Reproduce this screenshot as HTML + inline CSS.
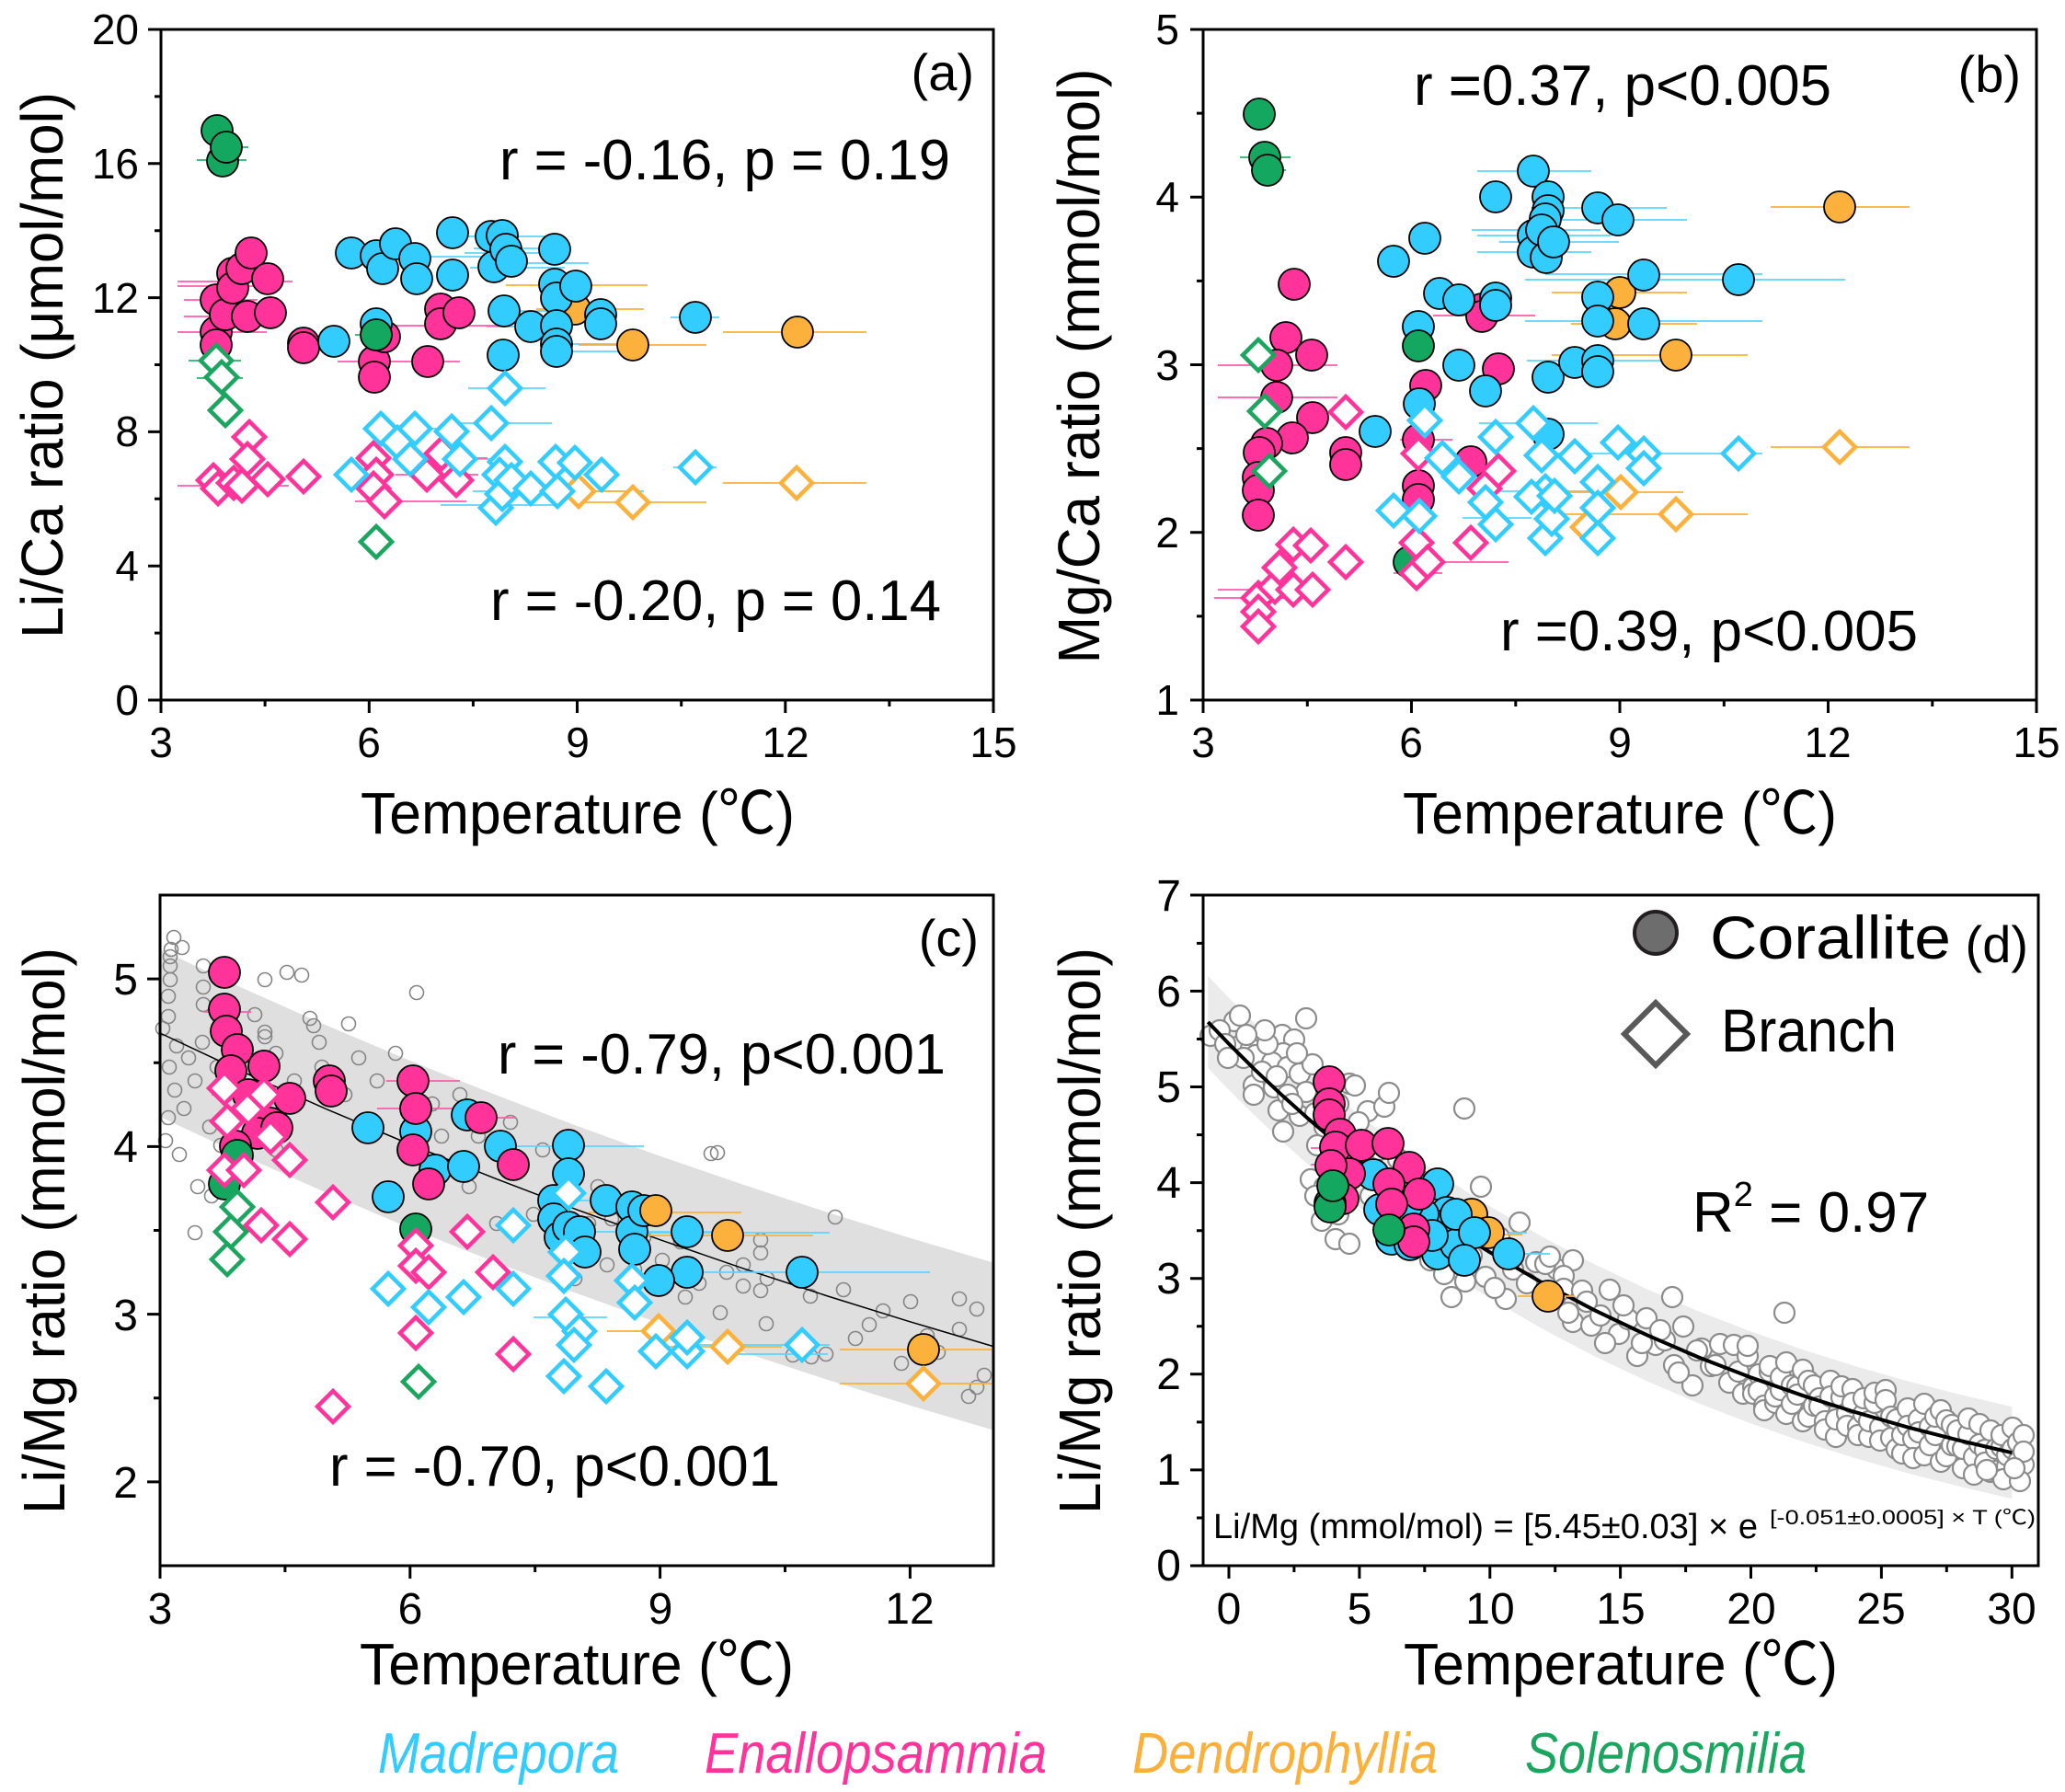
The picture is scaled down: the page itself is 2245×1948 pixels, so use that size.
<!DOCTYPE html>
<html><head><meta charset="utf-8"><style>
html,body{margin:0;padding:0;background:#fff}
svg{display:block}
text{font-family:"Liberation Sans","Noto Sans CJK SC",sans-serif;fill:#000}
.cj{font-family:"Noto Sans CJK SC","Liberation Sans",sans-serif}
.t{font-size:46px}.tb{font-size:48px}
.T{font-size:64px}
.S{font-size:62px}
.P{font-size:56px}
.ax{fill:none;stroke:#000;stroke-width:3}
.tk{stroke:#000;stroke-width:3;fill:none}
.m{fill:#33CCFF;stroke:#000;stroke-width:1.8}
.e{fill:#FF3399;stroke:#000;stroke-width:1.8}
.o{fill:#FBB13C;stroke:#000;stroke-width:1.8}
.s{fill:#14A75F;stroke:#000;stroke-width:1.8}
.dm{fill:#fff;stroke:#33CCFF;stroke-width:4.5}
.de{fill:#fff;stroke:#FF3399;stroke-width:4.5}
.do{fill:#fff;stroke:#FBB13C;stroke-width:4.5}
.ds{fill:#fff;stroke:#1AA65E;stroke-width:4.5}
.gc{fill:none;stroke:#858585;stroke-width:1.6}
.gd{fill:#fff;stroke:#8C8C8C;stroke-width:2.2}
.bm{stroke:#5CD6FF;stroke-width:1.8;fill:none}
.be{stroke:#FF5CAD;stroke-width:1.8;fill:none}
.bo{stroke:#FBB03B;stroke-width:1.8;fill:none}
.bs{stroke:#2AB36F;stroke-width:1.8;fill:none}
</style></head><body>
<svg width="2245" height="1948" viewBox="0 0 2245 1948" xmlns="http://www.w3.org/2000/svg">
<defs>
<circle id="C" r="17"/>
<path id="D" d="M0,-17L17,0L0,17L-17,0Z"/>
<circle id="g" r="7.5"/>
<circle id="h" r="11"/>
</defs>
<rect width="2245" height="1948" fill="#fff"/>

<!-- ================= PANEL (a) ================= -->
<path class="bm" d="M505 275H614M511 291H614M500 257H600M729 345H782M529 355H614M509 422H593M486 460H600M732 508H779M514 534H700M479 549H607M520 286H640M515 270H620M600 382H690M600 374H700M420 466H500M452 499H540M430 279H560M545 338H620"/>
<path class="be" d="M193 306H318M193 311H300M200 326H280M193 361H290M367 393H500M421 354H543M193 528H314M386 545H507M430 516H520M440 498H530M200 344H310"/>
<path class="bo" d="M786 361H942M629 375H768M583 336H700M786 525H942M629 546H768M550 310H704M580 534H680"/>
<path class="bs" d="M214 174H268M236 160H270M214 411H264M386 364H429M205 392H262"/>
<g>
<use href="#C" class="e" x="235" y="326"/><use href="#C" class="e" x="235" y="361"/><use href="#C" class="e" x="235" y="375"/><use href="#C" class="e" x="245" y="342"/><use href="#C" class="e" x="253" y="297"/><use href="#C" class="e" x="253" y="313"/><use href="#C" class="e" x="263" y="292"/><use href="#C" class="e" x="273" y="275"/><use href="#C" class="e" x="269" y="344"/><use href="#C" class="e" x="291" y="303"/><use href="#C" class="e" x="294" y="340"/><use href="#C" class="e" x="330" y="373"/><use href="#C" class="e" x="330" y="378"/><use href="#C" class="e" x="407" y="393"/><use href="#C" class="e" x="407" y="410"/><use href="#C" class="e" x="418" y="366"/><use href="#C" class="e" x="465" y="393"/><use href="#C" class="e" x="479" y="336"/><use href="#C" class="e" x="479" y="352"/><use href="#C" class="e" x="499" y="340"/>
<use href="#C" class="o" x="625" y="336"/><use href="#C" class="o" x="688" y="375"/><use href="#C" class="o" x="867" y="361"/>
<use href="#C" class="m" x="363" y="371"/><use href="#C" class="m" x="382" y="275"/><use href="#C" class="m" x="409" y="278"/><use href="#C" class="m" x="416" y="292"/><use href="#C" class="m" x="430" y="265"/><use href="#C" class="m" x="451" y="281"/><use href="#C" class="m" x="453" y="303"/><use href="#C" class="m" x="492" y="253"/><use href="#C" class="m" x="492" y="299"/><use href="#C" class="m" x="534" y="257"/><use href="#C" class="m" x="537" y="290"/><use href="#C" class="m" x="546" y="256"/><use href="#C" class="m" x="550" y="271"/><use href="#C" class="m" x="556" y="284"/><use href="#C" class="m" x="548" y="338"/><use href="#C" class="m" x="547" y="386"/><use href="#C" class="m" x="577" y="355"/><use href="#C" class="m" x="603" y="271"/><use href="#C" class="m" x="603" y="309"/><use href="#C" class="m" x="605" y="324"/><use href="#C" class="m" x="605" y="354"/><use href="#C" class="m" x="605" y="374"/><use href="#C" class="m" x="605" y="382"/><use href="#C" class="m" x="626" y="311"/><use href="#C" class="m" x="653" y="342"/><use href="#C" class="m" x="653" y="352"/><use href="#C" class="m" x="756" y="345"/><use href="#C" class="m" x="409" y="352"/>
<use href="#C" class="s" x="236" y="142"/><use href="#C" class="s" x="242" y="175"/><use href="#C" class="s" x="246" y="160"/><use href="#C" class="s" x="409" y="364"/>
<use href="#D" class="do" x="629" y="534"/><use href="#D" class="do" x="688" y="546"/><use href="#D" class="do" x="866" y="525"/>
<use href="#D" class="de" x="232" y="522"/><use href="#D" class="de" x="237" y="531"/><use href="#D" class="de" x="254" y="525"/><use href="#D" class="de" x="263" y="528"/><use href="#D" class="de" x="271" y="475"/><use href="#D" class="de" x="269" y="499"/><use href="#D" class="de" x="291" y="521"/><use href="#D" class="de" x="330" y="518"/><use href="#D" class="de" x="406" y="498"/><use href="#D" class="de" x="409" y="516"/><use href="#D" class="de" x="406" y="531"/><use href="#D" class="de" x="418" y="545"/><use href="#D" class="de" x="464" y="516"/><use href="#D" class="de" x="480" y="493"/><use href="#D" class="de" x="496" y="522"/>
<use href="#D" class="dm" x="382" y="516"/><use href="#D" class="dm" x="414" y="466"/><use href="#D" class="dm" x="432" y="481"/><use href="#D" class="dm" x="451" y="466"/><use href="#D" class="dm" x="446" y="499"/><use href="#D" class="dm" x="491" y="469"/><use href="#D" class="dm" x="500" y="499"/><use href="#D" class="dm" x="534" y="460"/><use href="#D" class="dm" x="549" y="422"/><use href="#D" class="dm" x="549" y="502"/><use href="#D" class="dm" x="543" y="516"/><use href="#D" class="dm" x="539" y="552"/><use href="#D" class="dm" x="546" y="537"/><use href="#D" class="dm" x="556" y="522"/><use href="#D" class="dm" x="577" y="531"/><use href="#D" class="dm" x="604" y="502"/><use href="#D" class="dm" x="606" y="534"/><use href="#D" class="dm" x="625" y="503"/><use href="#D" class="dm" x="654" y="516"/><use href="#D" class="dm" x="756" y="508"/>
<use href="#D" class="ds" x="235" y="392"/><use href="#D" class="ds" x="241" y="410"/><use href="#D" class="ds" x="245" y="446"/><use href="#D" class="ds" x="409" y="589"/>
</g>
<rect class="ax" x="175" y="32" width="905" height="729"/>
<path class="tk" d="M161 761H175M161 615.2H175M161 469.4H175M161 323.6H175M161 177.8H175M161 32H175M168 688.1H175M168 542.3H175M168 396.5H175M168 250.7H175M168 104.9H175M175 761V775M401.3 761V775M627.5 761V775M853.8 761V775M1080 761V775M288.1 761V768M514.4 761V768M740.7 761V768M966.9 761V768"/>
<g class="t" text-anchor="end"><text x="151" y="777">0</text><text x="151" y="631">4</text><text x="151" y="485">8</text><text x="151" y="340">12</text><text x="151" y="194">16</text><text x="151" y="48">20</text></g>
<g class="t" text-anchor="middle"><text x="175" y="823">3</text><text x="401" y="823">6</text><text x="628" y="823">9</text><text x="854" y="823">12</text><text x="1080" y="823">15</text></g>
<text class="T" x="628" y="906" text-anchor="middle" textLength="472" lengthAdjust="spacingAndGlyphs">Temperature (<tspan class="cj">℃</tspan>)</text>
<text class="T" transform="translate(68,397) rotate(-90)" text-anchor="middle" textLength="594" lengthAdjust="spacingAndGlyphs">Li/Ca ratio (μmol/mol)</text>
<text class="P" x="1059" y="98" text-anchor="end">(a)</text>
<text class="S" x="543" y="195" textLength="490" lengthAdjust="spacingAndGlyphs">r = -0.16, p = 0.19</text>
<text class="S" x="533" y="674" textLength="490" lengthAdjust="spacingAndGlyphs">r = -0.20, p = 0.14</text>

<!-- ================= PANEL (b) ================= -->
<path class="bm" d="M1606 186H1730M1658 304H2006M1680 298H1916M1665 226H1812M1606 256H1751M1606 274H1730M1694 239H1834M1658 349H1916M1680 493H1916M1694 493H1837M1608 460H1737M1622 534H1766M1590 563H1665M1660 392H1810M1600 250H1740M1630 263H1760"/>
<path class="bo" d="M1925 225H2076M1925 486H2076M1687 386H1900M1687 559H1900M1687 318H1834M1708 352H1845M1690 535H1830"/>
<path class="be" d="M1324 397H1454M1324 432H1454M1324 641H1421M1558 343H1669M1522 478H1579M1515 623H1568M1320 650H1410M1560 611H1640"/>
<path class="bs" d="M1348 171H1403M1360 185H1398"/>
<g>
<use href="#C" class="s" x="1532" y="611"/>
<use href="#C" class="e" x="1407" y="309"/><use href="#C" class="e" x="1398" y="367"/><use href="#C" class="e" x="1426" y="386"/><use href="#C" class="e" x="1388" y="397"/><use href="#C" class="e" x="1388" y="432"/><use href="#C" class="e" x="1427" y="454"/><use href="#C" class="e" x="1405" y="476"/><use href="#C" class="e" x="1377" y="482"/><use href="#C" class="e" x="1369" y="492"/><use href="#C" class="e" x="1368" y="519"/><use href="#C" class="e" x="1368" y="533"/><use href="#C" class="e" x="1368" y="560"/><use href="#C" class="e" x="1463" y="492"/><use href="#C" class="e" x="1463" y="505"/><use href="#C" class="e" x="1550" y="419"/><use href="#C" class="e" x="1542" y="478"/><use href="#C" class="e" x="1542" y="528"/><use href="#C" class="e" x="1542" y="543"/><use href="#C" class="e" x="1611" y="336"/><use href="#C" class="e" x="1611" y="344"/><use href="#C" class="e" x="1629" y="401"/><use href="#C" class="e" x="1599" y="502"/>
<use href="#C" class="o" x="1761" y="318"/><use href="#C" class="o" x="1756" y="352"/><use href="#C" class="o" x="1822" y="386"/><use href="#C" class="o" x="2000" y="225"/>
<use href="#C" class="m" x="1515" y="284"/><use href="#C" class="m" x="1549" y="259"/><use href="#C" class="m" x="1542" y="355"/><use href="#C" class="m" x="1565" y="319"/><use href="#C" class="m" x="1586" y="326"/><use href="#C" class="m" x="1586" y="397"/><use href="#C" class="m" x="1615" y="425"/><use href="#C" class="m" x="1626" y="214"/><use href="#C" class="m" x="1626" y="324"/><use href="#C" class="m" x="1626" y="332"/><use href="#C" class="m" x="1667" y="186"/><use href="#C" class="m" x="1667" y="256"/><use href="#C" class="m" x="1667" y="274"/><use href="#C" class="m" x="1683" y="214"/><use href="#C" class="m" x="1683" y="229"/><use href="#C" class="m" x="1680" y="238"/><use href="#C" class="m" x="1676" y="250"/><use href="#C" class="m" x="1681" y="280"/><use href="#C" class="m" x="1689" y="263"/><use href="#C" class="m" x="1683" y="410"/><use href="#C" class="m" x="1712" y="394"/><use href="#C" class="m" x="1737" y="226"/><use href="#C" class="m" x="1737" y="323"/><use href="#C" class="m" x="1737" y="349"/><use href="#C" class="m" x="1737" y="392"/><use href="#C" class="m" x="1737" y="404"/><use href="#C" class="m" x="1759" y="239"/><use href="#C" class="m" x="1787" y="299"/><use href="#C" class="m" x="1787" y="352"/><use href="#C" class="m" x="1890" y="304"/><use href="#C" class="m" x="1495" y="469"/><use href="#C" class="m" x="1543" y="439"/><use href="#C" class="m" x="1683" y="472"/>
<use href="#C" class="s" x="1369" y="124"/><use href="#C" class="s" x="1375" y="171"/><use href="#C" class="s" x="1378" y="185"/><use href="#C" class="s" x="1542" y="376"/>
<use href="#D" class="ds" x="1368" y="386"/><use href="#D" class="ds" x="1375" y="447"/><use href="#D" class="ds" x="1380" y="512"/>
<use href="#D" class="do" x="1762" y="535"/><use href="#D" class="do" x="1726" y="573"/><use href="#D" class="do" x="1822" y="559"/><use href="#D" class="do" x="2000" y="486"/>
<use href="#D" class="de" x="1368" y="650"/><use href="#D" class="de" x="1368" y="665"/><use href="#D" class="de" x="1368" y="681"/><use href="#D" class="de" x="1386" y="638"/><use href="#D" class="de" x="1391" y="617"/><use href="#D" class="de" x="1406" y="592"/><use href="#D" class="de" x="1406" y="641"/><use href="#D" class="de" x="1425" y="593"/><use href="#D" class="de" x="1427" y="641"/><use href="#D" class="de" x="1463" y="448"/><use href="#D" class="de" x="1463" y="611"/><use href="#D" class="de" x="1542" y="493"/><use href="#D" class="de" x="1540" y="590"/><use href="#D" class="de" x="1540" y="623"/><use href="#D" class="de" x="1552" y="611"/><use href="#D" class="de" x="1599" y="590"/><use href="#D" class="de" x="1614" y="531"/><use href="#D" class="de" x="1629" y="512"/>
<use href="#D" class="dm" x="1515" y="555"/><use href="#D" class="dm" x="1543" y="561"/><use href="#D" class="dm" x="1549" y="457"/><use href="#D" class="dm" x="1568" y="498"/><use href="#D" class="dm" x="1586" y="518"/><use href="#D" class="dm" x="1626" y="475"/><use href="#D" class="dm" x="1626" y="570"/><use href="#D" class="dm" x="1615" y="546"/><use href="#D" class="dm" x="1667" y="460"/><use href="#D" class="dm" x="1676" y="495"/><use href="#D" class="dm" x="1680" y="585"/><use href="#D" class="dm" x="1680" y="534"/><use href="#D" class="dm" x="1687" y="564"/><use href="#D" class="dm" x="1665" y="540"/><use href="#D" class="dm" x="1690" y="539"/><use href="#D" class="dm" x="1712" y="496"/><use href="#D" class="dm" x="1737" y="524"/><use href="#D" class="dm" x="1737" y="552"/><use href="#D" class="dm" x="1737" y="585"/><use href="#D" class="dm" x="1759" y="481"/><use href="#D" class="dm" x="1787" y="493"/><use href="#D" class="dm" x="1787" y="509"/><use href="#D" class="dm" x="1890" y="493"/>
</g>
<rect class="ax" x="1308" y="32" width="906" height="729"/>
<path class="tk" d="M1294 761H1308M1294 578.75H1308M1294 396.5H1308M1294 214.25H1308M1294 32H1308M1301 669.9H1308M1301 487.6H1308M1301 305.4H1308M1301 123.1H1308M1308 761V775M1534.5 761V775M1761 761V775M1987.5 761V775M2214 761V775M1421.3 761V768M1647.8 761V768M1874.3 761V768M2100.8 761V768"/>
<g class="t" text-anchor="end"><text x="1282" y="777">1</text><text x="1282" y="595">2</text><text x="1282" y="413">3</text><text x="1282" y="230">4</text><text x="1282" y="48">5</text></g>
<g class="t" text-anchor="middle"><text x="1308" y="823">3</text><text x="1534" y="823">6</text><text x="1761" y="823">9</text><text x="1987" y="823">12</text><text x="2214" y="823">15</text></g>
<text class="T" x="1761" y="906" text-anchor="middle" textLength="472" lengthAdjust="spacingAndGlyphs">Temperature (<tspan class="cj">℃</tspan>)</text>
<text class="T" transform="translate(1195,398) rotate(-90)" text-anchor="middle" textLength="647" lengthAdjust="spacingAndGlyphs">Mg/Ca ratio (mmol/mol)</text>
<text class="P" x="2197" y="100" text-anchor="end">(b)</text>
<text class="S" x="1537" y="114" textLength="454" lengthAdjust="spacingAndGlyphs">r =0.37, p&lt;0.005</text>
<text class="S" x="1631" y="707" textLength="454" lengthAdjust="spacingAndGlyphs">r =0.39, p&lt;0.005</text>

<!-- ================= PANEL (c) ================= -->
<polygon fill="#DFDFDF" points="174,1032 264.6,1074.5 355.2,1114.8 445.8,1153 536.4,1189.3 627,1223.9 717.6,1256.7 808.2,1287.9 898.8,1317.6 989.4,1345.8 1080,1372.6 1080,1554.6 989.4,1527.8 898.8,1499.6 808.2,1469.9 717.6,1438.7 627,1405.9 536.4,1371.3 445.8,1335 355.2,1296.8 264.6,1256.5 174,1214"/>
<g class="gc">
<use href="#g" x="189" y="1019"/><use href="#g" x="186" y="1032"/><use href="#g" x="198" y="1030"/><use href="#g" x="185" y="1040"/><use href="#g" x="185" y="1050"/><use href="#g" x="185" y="1065"/><use href="#g" x="183" y="1083"/><use href="#g" x="183" y="1105"/><use href="#g" x="221" y="1050"/><use href="#g" x="221" y="1073"/><use href="#g" x="221" y="1092"/><use href="#g" x="277" y="1103"/><use href="#g" x="288" y="1065"/><use href="#g" x="312" y="1057"/><use href="#g" x="328" y="1060"/><use href="#g" x="337" y="1107"/><use href="#g" x="341" y="1115"/><use href="#g" x="288" y="1122"/><use href="#g" x="288" y="1127"/><use href="#g" x="347" y="1133"/><use href="#g" x="379" y="1113"/><use href="#g" x="220" y="1133"/><use href="#g" x="192" y="1137"/><use href="#g" x="177" y="1118"/><use href="#g" x="184" y="1160"/><use href="#g" x="190" y="1185"/><use href="#g" x="205" y="1150"/><use href="#g" x="212" y="1175"/><use href="#g" x="236" y="1160"/><use href="#g" x="246" y="1190"/><use href="#g" x="200" y="1205"/><use href="#g" x="183" y="1215"/><use href="#g" x="228" y="1225"/><use href="#g" x="262" y="1210"/><use href="#g" x="240" y="1245"/><use href="#g" x="300" y="1250"/><use href="#g" x="195" y="1255"/><use href="#g" x="215" y="1290"/><use href="#g" x="230" y="1300"/><use href="#g" x="262" y="1270"/><use href="#g" x="290" y="1195"/><use href="#g" x="320" y="1175"/><use href="#g" x="270" y="1160"/><use href="#g" x="350" y="1160"/><use href="#g" x="375" y="1190"/><use href="#g" x="300" y="1145"/><use href="#g" x="390" y="1150"/><use href="#g" x="410" y="1175"/><use href="#g" x="453" y="1079"/><use href="#g" x="430" y="1145"/><use href="#g" x="470" y="1200"/><use href="#g" x="500" y="1190"/><use href="#g" x="520" y="1235"/><use href="#g" x="480" y="1235"/><use href="#g" x="555" y="1220"/><use href="#g" x="590" y="1250"/><use href="#g" x="620" y="1265"/><use href="#g" x="650" y="1290"/><use href="#g" x="560" y="1270"/><use href="#g" x="600" y="1300"/><use href="#g" x="640" y="1330"/><use href="#g" x="665" y="1325"/><use href="#g" x="700" y="1345"/><use href="#g" x="720" y="1370"/><use href="#g" x="690" y="1380"/><use href="#g" x="740" y="1350"/><use href="#g" x="760" y="1395"/><use href="#g" x="773" y="1254"/><use href="#g" x="660" y="1375"/><use href="#g" x="625" y="1390"/><use href="#g" x="580" y="1320"/><use href="#g" x="540" y="1330"/><use href="#g" x="510" y="1290"/><use href="#g" x="470" y="1270"/><use href="#g" x="720" y="1315"/><use href="#g" x="745" y="1410"/><use href="#g" x="908" y="1323"/><use href="#g" x="827" y="1348"/><use href="#g" x="827" y="1362"/><use href="#g" x="808" y="1375"/><use href="#g" x="790" y="1383"/><use href="#g" x="808" y="1398"/><use href="#g" x="827" y="1403"/><use href="#g" x="834" y="1390"/><use href="#g" x="881" y="1409"/><use href="#g" x="917" y="1402"/><use href="#g" x="783" y="1427"/><use href="#g" x="833" y="1439"/><use href="#g" x="862" y="1473"/><use href="#g" x="882" y="1475"/><use href="#g" x="898" y="1472"/><use href="#g" x="980" y="1482"/><use href="#g" x="1008" y="1452"/><use href="#g" x="1043" y="1412"/><use href="#g" x="1062" y="1423"/><use href="#g" x="1043" y="1445"/><use href="#g" x="1062" y="1508"/><use href="#g" x="1053" y="1518"/><use href="#g" x="780" y="1253"/><use href="#g" x="945" y="1440"/><use href="#g" x="960" y="1425"/><use href="#g" x="990" y="1415"/><use href="#g" x="930" y="1455"/><use href="#g" x="1070" y="1495"/><use href="#g" x="1020" y="1470"/><use href="#g" x="180" y="1240"/><use href="#g" x="212" y="1340"/>
</g>
<polyline fill="none" stroke="#000" stroke-width="1.5" points="174,1123 264.6,1165.5 355.2,1205.8 445.8,1244 536.4,1280.3 627,1314.9 717.6,1347.7 808.2,1378.9 898.8,1408.6 989.4,1436.8 1080,1463.6"/>
<path class="bm" d="M700 1340H902M730 1383H1011M750 1462H902M780 1472H900M600 1305H700M640 1339H780M560 1246H700M580 1432H660"/>
<path class="bo" d="M700 1343H884M640 1318H806M913 1467H1080M913 1504H1080M700 1464H850M660 1447H760"/>
<path class="be" d="M221 1100H273M420 1175H500M230 1190H320M500 1215H560M410 1205H500"/>
<g>
<use href="#C" class="m" x="400" y="1226"/><use href="#C" class="m" x="422" y="1301"/><use href="#C" class="m" x="452" y="1230"/><use href="#C" class="m" x="473" y="1272"/><use href="#C" class="m" x="504" y="1268"/><use href="#C" class="m" x="508" y="1212"/><use href="#C" class="m" x="544" y="1246"/><use href="#C" class="m" x="618" y="1245"/><use href="#C" class="m" x="618" y="1276"/><use href="#C" class="m" x="602" y="1305"/><use href="#C" class="m" x="602" y="1325"/><use href="#C" class="m" x="609" y="1345"/><use href="#C" class="m" x="618" y="1334"/><use href="#C" class="m" x="630" y="1339"/><use href="#C" class="m" x="636" y="1361"/><use href="#C" class="m" x="659" y="1305"/><use href="#C" class="m" x="687" y="1312"/><use href="#C" class="m" x="687" y="1339"/><use href="#C" class="m" x="690" y="1358"/><use href="#C" class="m" x="700" y="1316"/><use href="#C" class="m" x="747" y="1339"/><use href="#C" class="m" x="747" y="1383"/><use href="#C" class="m" x="716" y="1392"/><use href="#C" class="m" x="872" y="1383"/>
<use href="#C" class="o" x="713" y="1316"/><use href="#C" class="o" x="791" y="1343"/><use href="#C" class="o" x="1004" y="1467"/>
<use href="#C" class="e" x="244" y="1057"/><use href="#C" class="e" x="244" y="1097"/><use href="#C" class="e" x="246" y="1121"/><use href="#C" class="e" x="258" y="1141"/><use href="#C" class="e" x="251" y="1164"/><use href="#C" class="e" x="287" y="1159"/><use href="#C" class="e" x="270" y="1190"/><use href="#C" class="e" x="315" y="1194"/><use href="#C" class="e" x="294" y="1221"/><use href="#C" class="e" x="280" y="1232"/><use href="#C" class="e" x="301" y="1226"/><use href="#C" class="e" x="256" y="1246"/><use href="#C" class="e" x="358" y="1175"/><use href="#C" class="e" x="360" y="1186"/><use href="#C" class="e" x="449" y="1175"/><use href="#C" class="e" x="452" y="1205"/><use href="#C" class="e" x="449" y="1250"/><use href="#C" class="e" x="466" y="1287"/><use href="#C" class="e" x="523" y="1215"/><use href="#C" class="e" x="558" y="1266"/>
<use href="#C" class="s" x="258" y="1256"/><use href="#C" class="s" x="244" y="1287"/><use href="#C" class="s" x="452" y="1336"/>
<use href="#D" class="ds" x="258" y="1312"/><use href="#D" class="ds" x="251" y="1339"/><use href="#D" class="ds" x="247" y="1369"/><use href="#D" class="ds" x="455" y="1502"/>
<use href="#D" class="do" x="716" y="1447"/><use href="#D" class="do" x="791" y="1464"/><use href="#D" class="do" x="1004" y="1504"/>
<use href="#D" class="de" x="244" y="1183"/><use href="#D" class="de" x="247" y="1219"/><use href="#D" class="de" x="244" y="1272"/><use href="#D" class="de" x="265" y="1272"/><use href="#D" class="de" x="270" y="1205"/><use href="#D" class="de" x="287" y="1190"/><use href="#D" class="de" x="294" y="1236"/><use href="#D" class="de" x="315" y="1261"/><use href="#D" class="de" x="284" y="1332"/><use href="#D" class="de" x="315" y="1347"/><use href="#D" class="de" x="362" y="1307"/><use href="#D" class="de" x="362" y="1529"/><use href="#D" class="de" x="452" y="1354"/><use href="#D" class="de" x="452" y="1376"/><use href="#D" class="de" x="466" y="1383"/><use href="#D" class="de" x="452" y="1449"/><use href="#D" class="de" x="508" y="1339"/><use href="#D" class="de" x="536" y="1383"/><use href="#D" class="de" x="558" y="1472"/>
<use href="#D" class="dm" x="422" y="1401"/><use href="#D" class="dm" x="466" y="1421"/><use href="#D" class="dm" x="504" y="1410"/><use href="#D" class="dm" x="558" y="1332"/><use href="#D" class="dm" x="558" y="1401"/><use href="#D" class="dm" x="615" y="1361"/><use href="#D" class="dm" x="618" y="1297"/><use href="#D" class="dm" x="613" y="1387"/><use href="#D" class="dm" x="615" y="1429"/><use href="#D" class="dm" x="613" y="1496"/><use href="#D" class="dm" x="630" y="1447"/><use href="#D" class="dm" x="624" y="1462"/><use href="#D" class="dm" x="659" y="1507"/><use href="#D" class="dm" x="687" y="1392"/><use href="#D" class="dm" x="690" y="1416"/><use href="#D" class="dm" x="713" y="1469"/><use href="#D" class="dm" x="747" y="1469"/><use href="#D" class="dm" x="747" y="1454"/><use href="#D" class="dm" x="872" y="1462"/>
</g>
<rect class="ax" x="174" y="973" width="906" height="729"/>
<path class="tk" d="M160 1610.9H174M160 1428.6H174M160 1246.4H174M160 1064.1H174M167 1519.8H174M167 1337.5H174M167 1155.3H174M174 1702V1716M445.8 1702V1716M717.6 1702V1716M989.4 1702V1716M309.9 1702V1709M581.7 1702V1709M853.5 1702V1709"/>
<g class="tb" text-anchor="end"><text x="150" y="1628">2</text><text x="150" y="1446">3</text><text x="150" y="1263">4</text><text x="150" y="1081">5</text></g>
<g class="tb" text-anchor="middle"><text x="174" y="1765">3</text><text x="446" y="1765">6</text><text x="718" y="1765">9</text><text x="989" y="1765">12</text></g>
<text class="T" x="627" y="1831" text-anchor="middle" textLength="472" lengthAdjust="spacingAndGlyphs">Temperature (<tspan class="cj">℃</tspan>)</text>
<text class="T" transform="translate(70,1338) rotate(-90)" text-anchor="middle" textLength="616" lengthAdjust="spacingAndGlyphs">Li/Mg ratio (mmol/mol)</text>
<text class="P" x="1064" y="1039" text-anchor="end">(c)</text>
<text class="S" x="541" y="1167" textLength="487" lengthAdjust="spacingAndGlyphs">r = -0.79, p&lt;0.001</text>
<text class="S" x="358" y="1615" textLength="490" lengthAdjust="spacingAndGlyphs">r = -0.70, p&lt;0.001</text>

<!-- ================= PANEL (d) ================= -->
<polygon fill="#EBEBEB" points="1313.3,1061 1336,1084.7 1364.4,1112.9 1392.8,1139.7 1421.1,1165.1 1449.5,1189.4 1477.9,1212.4 1506.3,1234.2 1534.6,1255 1563,1274.7 1591.4,1293.5 1619.8,1311.3 1676.5,1344.4 1733.3,1374.2 1790,1401.1 1846.8,1425.5 1903.5,1447.4 1960.3,1467.2 2017,1485.1 2073.8,1501.4 2130.5,1515.9 2187.3,1529.2 2187.3,1629.2 2130.5,1615.9 2073.8,1601.4 2017,1585.1 1960.3,1567.2 1903.5,1547.4 1846.8,1525.5 1790,1501.1 1733.3,1474.2 1676.5,1444.4 1619.8,1411.3 1591.4,1393.5 1563,1374.7 1534.6,1355 1506.3,1334.2 1477.9,1312.4 1449.5,1289.4 1421.1,1265.1 1392.8,1239.7 1364.4,1212.9 1336,1184.7 1313.3,1161"/>
<g class="gd">
<use href="#h" x="1316" y="1126"/><use href="#h" x="1342" y="1110"/><use href="#h" x="1348" y="1104"/><use href="#h" x="1345" y="1138"/><use href="#h" x="1360" y="1140"/><use href="#h" x="1365" y="1147"/><use href="#h" x="1394" y="1125"/><use href="#h" x="1407" y="1130"/><use href="#h" x="1420" y="1107"/><use href="#h" x="1395" y="1145"/><use href="#h" x="1383" y="1155"/><use href="#h" x="1400" y="1160"/><use href="#h" x="1413" y="1167"/><use href="#h" x="1427" y="1157"/><use href="#h" x="1363" y="1180"/><use href="#h" x="1363" y="1190"/><use href="#h" x="1385" y="1182"/><use href="#h" x="1390" y="1207"/><use href="#h" x="1420" y="1187"/><use href="#h" x="1413" y="1213"/><use href="#h" x="1395" y="1230"/><use href="#h" x="1425" y="1282"/><use href="#h" x="1437" y="1327"/><use href="#h" x="1452" y="1347"/><use href="#h" x="1467" y="1352"/><use href="#h" x="1326" y="1120"/><use href="#h" x="1332" y="1135"/><use href="#h" x="1352" y="1150"/><use href="#h" x="1372" y="1165"/><use href="#h" x="1378" y="1135"/><use href="#h" x="1400" y="1190"/><use href="#h" x="1405" y="1200"/><use href="#h" x="1430" y="1210"/><use href="#h" x="1440" y="1225"/><use href="#h" x="1445" y="1250"/><use href="#h" x="1432" y="1245"/><use href="#h" x="1455" y="1200"/><use href="#h" x="1465" y="1240"/><use href="#h" x="1470" y="1265"/><use href="#h" x="1440" y="1290"/><use href="#h" x="1430" y="1300"/><use href="#h" x="1455" y="1320"/><use href="#h" x="1375" y="1120"/><use href="#h" x="1355" y="1125"/><use href="#h" x="1335" y="1150"/><use href="#h" x="1410" y="1145"/><use href="#h" x="1388" y="1170"/><use href="#h" x="1467" y="1178"/><use href="#h" x="1473" y="1180"/>
<use href="#h" x="1487" y="1208"/><use href="#h" x="1477" y="1220"/><use href="#h" x="1505" y="1203"/><use href="#h" x="1510" y="1188"/><use href="#h" x="1592" y="1205"/><use href="#h" x="1610" y="1290"/><use href="#h" x="1652" y="1329"/><use href="#h" x="1578" y="1410"/><use href="#h" x="1593" y="1393"/><use href="#h" x="1615" y="1388"/><use href="#h" x="1637" y="1412"/><use href="#h" x="1520" y="1260"/><use href="#h" x="1540" y="1280"/><use href="#h" x="1560" y="1300"/><use href="#h" x="1580" y="1318"/><use href="#h" x="1600" y="1365"/><use href="#h" x="1630" y="1345"/><use href="#h" x="1645" y="1380"/><use href="#h" x="1660" y="1395"/><use href="#h" x="1670" y="1372"/><use href="#h" x="1625" y="1400"/><use href="#h" x="1555" y="1370"/><use href="#h" x="1570" y="1385"/><use href="#h" x="1530" y="1330"/><use href="#h" x="1490" y="1300"/><use href="#h" x="1500" y="1250"/><use href="#h" x="1693" y="1380"/><use href="#h" x="1710" y="1370"/><use href="#h" x="1700" y="1387"/>
<use href="#h" x="1680" y="1374"/><use href="#h" x="1690" y="1412"/><use href="#h" x="1700" y="1401"/><use href="#h" x="1710" y="1437"/><use href="#h" x="1720" y="1403"/><use href="#h" x="1730" y="1441"/><use href="#h" x="1740" y="1430"/><use href="#h" x="1750" y="1402"/><use href="#h" x="1760" y="1450"/><use href="#h" x="1770" y="1434"/><use href="#h" x="1780" y="1474"/><use href="#h" x="1790" y="1433"/><use href="#h" x="1800" y="1462"/><use href="#h" x="1810" y="1457"/><use href="#h" x="1820" y="1484"/><use href="#h" x="1830" y="1442"/><use href="#h" x="1840" y="1506"/><use href="#h" x="1850" y="1466"/><use href="#h" x="1860" y="1485"/><use href="#h" x="1870" y="1461"/><use href="#h" x="1880" y="1503"/><use href="#h" x="1890" y="1491"/><use href="#h" x="1685" y="1366"/><use href="#h" x="1705" y="1427"/><use href="#h" x="1725" y="1415"/><use href="#h" x="1745" y="1460"/><use href="#h" x="1765" y="1419"/><use href="#h" x="1785" y="1460"/><use href="#h" x="1805" y="1446"/><use href="#h" x="1825" y="1492"/><use href="#h" x="1845" y="1468"/><use href="#h" x="1865" y="1484"/><use href="#h" x="1885" y="1462"/><use href="#h" x="1895" y="1515"/><use href="#h" x="1818" y="1410"/><use href="#h" x="1940" y="1427"/>
<use href="#h" x="1900" y="1474"/><use href="#h" x="1900" y="1463"/><use href="#h" x="1906" y="1508"/><use href="#h" x="1906" y="1515"/><use href="#h" x="1912" y="1494"/><use href="#h" x="1912" y="1512"/><use href="#h" x="1918" y="1528"/><use href="#h" x="1918" y="1533"/><use href="#h" x="1924" y="1491"/><use href="#h" x="1924" y="1485"/><use href="#h" x="1930" y="1525"/><use href="#h" x="1930" y="1518"/><use href="#h" x="1936" y="1511"/><use href="#h" x="1936" y="1497"/><use href="#h" x="1942" y="1481"/><use href="#h" x="1942" y="1537"/><use href="#h" x="1948" y="1526"/><use href="#h" x="1948" y="1506"/><use href="#h" x="1954" y="1507"/><use href="#h" x="1954" y="1516"/><use href="#h" x="1960" y="1545"/><use href="#h" x="1960" y="1489"/><use href="#h" x="1966" y="1501"/><use href="#h" x="1966" y="1540"/><use href="#h" x="1972" y="1528"/><use href="#h" x="1972" y="1506"/><use href="#h" x="1978" y="1520"/><use href="#h" x="1978" y="1529"/><use href="#h" x="1984" y="1545"/><use href="#h" x="1984" y="1554"/><use href="#h" x="1990" y="1501"/><use href="#h" x="1990" y="1518"/><use href="#h" x="1996" y="1562"/><use href="#h" x="1996" y="1543"/><use href="#h" x="2002" y="1519"/><use href="#h" x="2002" y="1507"/><use href="#h" x="2008" y="1536"/><use href="#h" x="2008" y="1550"/><use href="#h" x="2014" y="1510"/><use href="#h" x="2014" y="1525"/><use href="#h" x="2020" y="1551"/><use href="#h" x="2020" y="1560"/><use href="#h" x="2026" y="1537"/><use href="#h" x="2026" y="1520"/><use href="#h" x="2032" y="1562"/><use href="#h" x="2032" y="1545"/><use href="#h" x="2038" y="1525"/><use href="#h" x="2038" y="1514"/><use href="#h" x="2044" y="1552"/><use href="#h" x="2044" y="1566"/><use href="#h" x="2050" y="1511"/><use href="#h" x="2050" y="1522"/><use href="#h" x="2056" y="1563"/><use href="#h" x="2056" y="1540"/><use href="#h" x="2062" y="1543"/><use href="#h" x="2062" y="1575"/><use href="#h" x="2068" y="1580"/><use href="#h" x="2068" y="1560"/><use href="#h" x="2074" y="1531"/><use href="#h" x="2074" y="1550"/><use href="#h" x="2080" y="1564"/><use href="#h" x="2080" y="1585"/><use href="#h" x="2086" y="1543"/><use href="#h" x="2086" y="1557"/><use href="#h" x="2092" y="1582"/><use href="#h" x="2092" y="1526"/><use href="#h" x="2098" y="1551"/><use href="#h" x="2098" y="1571"/><use href="#h" x="2104" y="1560"/><use href="#h" x="2104" y="1540"/><use href="#h" x="2110" y="1533"/><use href="#h" x="2110" y="1589"/><use href="#h" x="2116" y="1583"/><use href="#h" x="2116" y="1544"/><use href="#h" x="2122" y="1549"/><use href="#h" x="2122" y="1571"/><use href="#h" x="2128" y="1572"/><use href="#h" x="2128" y="1555"/><use href="#h" x="2134" y="1596"/><use href="#h" x="2134" y="1575"/><use href="#h" x="2140" y="1559"/><use href="#h" x="2140" y="1542"/><use href="#h" x="2146" y="1584"/><use href="#h" x="2146" y="1603"/><use href="#h" x="2152" y="1548"/><use href="#h" x="2152" y="1570"/><use href="#h" x="2158" y="1576"/><use href="#h" x="2158" y="1590"/><use href="#h" x="2164" y="1555"/><use href="#h" x="2164" y="1600"/><use href="#h" x="2170" y="1599"/><use href="#h" x="2170" y="1575"/><use href="#h" x="2176" y="1573"/><use href="#h" x="2176" y="1560"/><use href="#h" x="2182" y="1594"/><use href="#h" x="2182" y="1582"/><use href="#h" x="2188" y="1552"/><use href="#h" x="2188" y="1575"/><use href="#h" x="2194" y="1589"/><use href="#h" x="2194" y="1568"/><use href="#h" x="2200" y="1560"/><use href="#h" x="2200" y="1592"/><use href="#h" x="2178" y="1608"/><use href="#h" x="2196" y="1610"/><use href="#h" x="2160" y="1598"/><use href="#h" x="2200" y="1578"/><use href="#h" x="2190" y="1596"/>
</g>
<polyline fill="none" stroke="#000" stroke-width="4" points="1313.3,1111 1336,1134.7 1364.4,1162.9 1392.8,1189.7 1421.1,1215.1 1449.5,1239.4 1477.9,1262.4 1506.3,1284.2 1534.6,1305 1563,1324.7 1591.4,1343.5 1619.8,1361.3 1676.5,1394.4 1733.3,1424.2 1790,1451.1 1846.8,1475.5 1903.5,1497.4 1960.3,1517.2 2017,1535.1 2073.8,1551.4 2130.5,1565.9 2187.3,1579.2"/>
<path class="be" d="M1425 1248H1442M1425 1266H1442"/>
<path class="bm" d="M1655 1363H1685M1640 1340H1660"/>
<path class="bo" d="M1650 1409H1712M1630 1342H1655"/>
<g>
<use href="#C" class="o" x="1600" y="1320"/><use href="#C" class="o" x="1618" y="1340"/>
<use href="#C" class="m" x="1493" y="1277"/><use href="#C" class="m" x="1500" y="1315"/><use href="#C" class="m" x="1563" y="1287"/><use href="#C" class="m" x="1573" y="1318"/><use href="#C" class="m" x="1513" y="1347"/><use href="#C" class="m" x="1560" y="1350"/><use href="#C" class="m" x="1563" y="1363"/><use href="#C" class="m" x="1567" y="1333"/><use href="#C" class="m" x="1583" y="1353"/><use href="#C" class="m" x="1547" y="1320"/><use href="#C" class="m" x="1533" y="1353"/><use href="#C" class="m" x="1557" y="1343"/><use href="#C" class="m" x="1583" y="1320"/><use href="#C" class="m" x="1520" y="1320"/><use href="#C" class="m" x="1530" y="1310"/><use href="#C" class="m" x="1603" y="1340"/><use href="#C" class="m" x="1592" y="1370"/><use href="#C" class="m" x="1640" y="1363"/>
<use href="#C" class="o" x="1683" y="1409"/>
<use href="#C" class="e" x="1445" y="1176"/><use href="#C" class="e" x="1445" y="1200"/><use href="#C" class="e" x="1445" y="1212"/><use href="#C" class="e" x="1457" y="1233"/><use href="#C" class="e" x="1452" y="1247"/><use href="#C" class="e" x="1480" y="1245"/><use href="#C" class="e" x="1509" y="1243"/><use href="#C" class="e" x="1532" y="1269"/><use href="#C" class="e" x="1467" y="1276"/><use href="#C" class="e" x="1510" y="1287"/><use href="#C" class="e" x="1543" y="1298"/><use href="#C" class="e" x="1513" y="1309"/><use href="#C" class="e" x="1537" y="1336"/><use href="#C" class="e" x="1537" y="1350"/><use href="#C" class="e" x="1460" y="1303"/><use href="#C" class="e" x="1447" y="1267"/>
<use href="#C" class="s" x="1446" y="1308"/><use href="#C" class="s" x="1446" y="1312"/><use href="#C" class="s" x="1449" y="1289"/><use href="#C" class="s" x="1510" y="1337"/>
</g>
<rect class="ax" x="1308" y="973" width="908" height="729"/>
<path class="tk" d="M1294 1702H1308M1294 1597.9H1308M1294 1493.8H1308M1294 1389.7H1308M1294 1285.6H1308M1294 1181.5H1308M1294 1077.4H1308M1294 973H1308M1301 1650H1308M1301 1545.9H1308M1301 1441.8H1308M1301 1337.7H1308M1301 1233.6H1308M1301 1129.5H1308M1301 1025.4H1308M1336 1702V1716M1477.9 1702V1716M1619.8 1702V1716M1761.6 1702V1716M1903.5 1702V1716M2045.4 1702V1716M2187.3 1702V1716M1406.9 1702V1709M1548.8 1702V1709M1690.7 1702V1709M1832.6 1702V1709M1974.4 1702V1709M2116.3 1702V1709"/>
<g class="tb" text-anchor="end"><text x="1284" y="1718">0</text><text x="1284" y="1614">1</text><text x="1284" y="1510">2</text><text x="1284" y="1406">3</text><text x="1284" y="1302">4</text><text x="1284" y="1198">5</text><text x="1284" y="1094">6</text><text x="1284" y="990">7</text></g>
<g class="tb" text-anchor="middle"><text x="1336" y="1765">0</text><text x="1478" y="1765">5</text><text x="1620" y="1765">10</text><text x="1762" y="1765">15</text><text x="1904" y="1765">20</text><text x="2045" y="1765">25</text><text x="2187" y="1765">30</text></g>
<text class="T" x="1762" y="1831" text-anchor="middle" textLength="472" lengthAdjust="spacingAndGlyphs">Temperature (<tspan class="cj">℃</tspan>)</text>
<text class="T" transform="translate(1196,1338) rotate(-90)" text-anchor="middle" textLength="616" lengthAdjust="spacingAndGlyphs">Li/Mg ratio (mmol/mol)</text>
<!-- legend -->
<circle cx="1800" cy="1014" r="23" fill="#6D6D6D" stroke="#231F20" stroke-width="4"/>
<path d="M1800,1090L1834,1124L1800,1158L1766,1124Z" fill="#fff" stroke="#595959" stroke-width="6"/>
<text x="1859" y="1042" font-size="66" textLength="262" lengthAdjust="spacingAndGlyphs">Corallite</text>
<text class="P" x="2205" y="1046" text-anchor="end">(d)</text>
<text x="1871" y="1143" font-size="66" textLength="191" lengthAdjust="spacingAndGlyphs">Branch</text>
<text class="S" x="1840" y="1339">R<tspan font-size="38" dy="-28">2</tspan><tspan dy="28"> = 0.97</tspan></text>
<text x="1319" y="1672" font-size="38" textLength="592" lengthAdjust="spacingAndGlyphs">Li/Mg (mmol/mol) = [5.45±0.03] × e</text>
<text x="1924" y="1657" font-size="22" textLength="289" lengthAdjust="spacingAndGlyphs">[-0.051±0.0005] × T (<tspan class="cj">℃</tspan>)</text>

<!-- ================= bottom legend ================= -->
<g font-size="62" font-style="italic">
<text x="411" y="1927" style="fill:#33CCFF" textLength="262" lengthAdjust="spacingAndGlyphs">Madrepora</text>
<text x="766" y="1927" style="fill:#FF3399" textLength="372" lengthAdjust="spacingAndGlyphs">Enallopsammia</text>
<text x="1231" y="1927" style="fill:#FBB03B" textLength="332" lengthAdjust="spacingAndGlyphs">Dendrophyllia</text>
<text x="1658" y="1927" style="fill:#1AA65E" textLength="306" lengthAdjust="spacingAndGlyphs">Solenosmilia</text>
</g>
</svg>
</body></html>
